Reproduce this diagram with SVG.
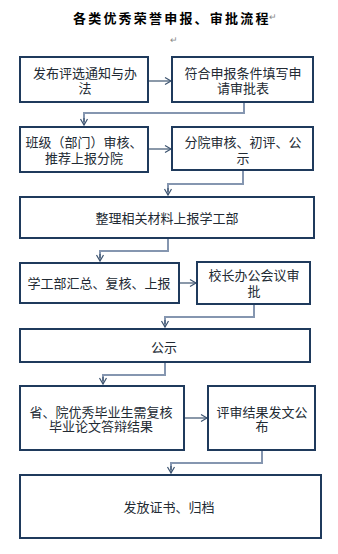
<svg xmlns="http://www.w3.org/2000/svg" width="338" height="554" viewBox="0 0 338 554">
<defs>
<style>
.box{fill:#fff;stroke:#1f3a5c;stroke-width:2}
.t{font-family:"Noto Sans CJK SC","Liberation Sans",sans-serif;font-size:13px;fill:#222a33;text-anchor:middle;dominant-baseline:central}
.title{font-family:"Noto Sans CJK SC","Liberation Sans",sans-serif;font-size:13px;font-weight:bold;fill:#000;letter-spacing:2.2px;dominant-baseline:central}
.pm{font-family:"Liberation Sans",sans-serif;font-size:9px;fill:#888;dominant-baseline:central}
.elbow{fill:none;stroke:#8596b0;stroke-width:2}
.arr{fill:none;stroke:#3d5470;stroke-width:1.2}
</style>
<marker id="ah" markerWidth="10" markerHeight="10" refX="8" refY="5" orient="auto" markerUnits="userSpaceOnUse">
<polyline points="2,1.5 8,5 2,8.5" fill="none" stroke="#3d5470" stroke-width="1.2"/>
</marker>
</defs>
<rect width="338" height="554" fill="#fff"/>
<text class="title" x="73" y="17">各类优秀荣誉申报、审批流程</text>
<text class="pm" x="269" y="17">↵</text>
<text class="pm" x="170" y="40">↵</text>

<g id="connectors">
<line class="arr" x1="149" y1="81" x2="171" y2="81" marker-end="url(#ah)"/>
<polyline class="elbow" points="244,102 244,113 84,113 84,122"/>
<line class="arr" x1="84" y1="118" x2="84" y2="125" marker-end="url(#ah)"/>
<line class="arr" x1="149" y1="149" x2="171" y2="149" marker-end="url(#ah)"/>
<polyline class="elbow" points="243,171 243,184 168,184 168,192"/>
<line class="arr" x1="168" y1="188" x2="168" y2="195" marker-end="url(#ah)"/>
<polyline class="elbow" points="168,238 168,251 100,251 100,258"/>
<line class="arr" x1="100" y1="254" x2="100" y2="261" marker-end="url(#ah)"/>
<line class="arr" x1="180" y1="283" x2="196" y2="283" marker-end="url(#ah)"/>
<polyline class="elbow" points="254,304 254,317 165,317 165,324"/>
<line class="arr" x1="165" y1="320" x2="165" y2="327" marker-end="url(#ah)"/>
<polyline class="elbow" points="165,362 165,375 103,375 103,381"/>
<line class="arr" x1="103" y1="377" x2="103" y2="384" marker-end="url(#ah)"/>
<line class="arr" x1="185" y1="418" x2="207" y2="418" marker-end="url(#ah)"/>
<polyline class="elbow" points="262,450 262,463 171,463 171,470"/>
<line class="arr" x1="171" y1="466" x2="171" y2="473" marker-end="url(#ah)"/>
</g>

<g id="n1"><rect class="box" x="20" y="57" width="128" height="45"/>
<text class="t" x="85" y="72">发布评选通知与办</text><text class="t" x="85" y="87">法</text></g>
<g id="n2"><rect class="box" x="172" y="57" width="141" height="45"/>
<text class="t" x="243" y="72">符合申报条件填写申</text><text class="t" x="243" y="87">请审批表</text></g>
<g id="n3"><rect class="box" x="20" y="127" width="128" height="45"/>
<text class="t" x="84" y="141">班级（部门）审核、</text><text class="t" x="84" y="157">推荐上报分院</text></g>
<g id="n4"><rect class="box" x="172" y="127" width="141" height="43"/>
<text class="t" x="243" y="141">分院审核、初评、公</text><text class="t" x="243" y="157">示</text></g>
<g id="n5"><rect class="box" x="20" y="197" width="294" height="41"/>
<text class="t" x="167" y="217">整理相关材料上报学工部</text></g>
<g id="n6"><rect class="box" x="20" y="263" width="159" height="40"/>
<text class="t" x="99" y="282">学工部汇总、复核、上报</text></g>
<g id="n7"><rect class="box" x="197" y="262" width="113" height="42"/>
<text class="t" x="254" y="274">校长办公会议审</text><text class="t" x="254" y="290">批</text></g>
<g id="n8"><rect class="box" x="20" y="329" width="290" height="33"/>
<text class="t" x="164" y="346">公示</text></g>
<g id="n9"><rect class="box" x="20" y="386" width="164" height="64"/>
<text class="t" x="101" y="411">省、院优秀毕业生需复核</text><text class="t" x="101" y="425">毕业论文答辩结果</text></g>
<g id="n10"><rect class="box" x="208" y="386" width="107" height="64"/>
<text class="t" x="262" y="411">评审结果发文公</text><text class="t" x="262" y="425">布</text></g>
<g id="n11"><rect class="box" x="20" y="475" width="301" height="63"/>
<text class="t" x="169" y="506">发放证书、归档</text></g>
</svg>
